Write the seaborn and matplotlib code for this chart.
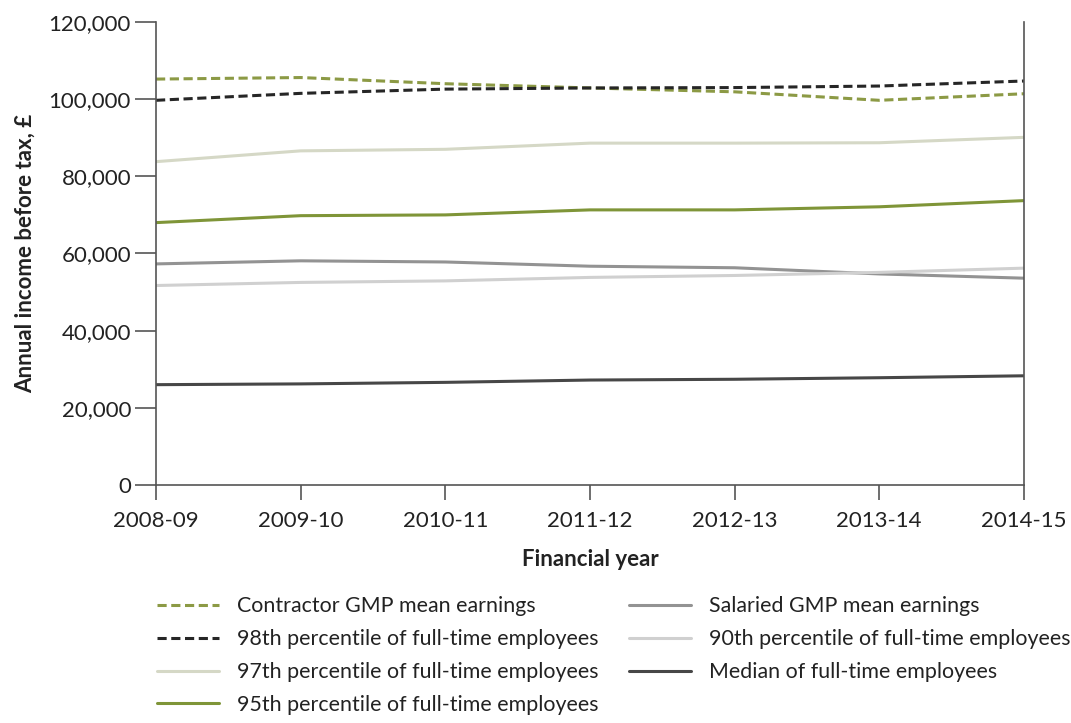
import pandas as pd
import matplotlib
matplotlib.use("Agg")
import matplotlib.pyplot as plt
import seaborn as sns

sns.set_theme(style="white")
plt.rcParams['font.family'] = ['Lato', 'DejaVu Sans']

# Data (GBP)
years = ['2008-09', '2009-10', '2010-11', '2011-12', '2012-13', '2013-14', '2014-15']
contractor_gmp = [105200, 105600, 104000, 102900, 101900, 99700, 101400]
pct98 = [99700, 101500, 102600, 102900, 103000, 103400, 104700]
pct97 = [83800, 86600, 87000, 88600, 88600, 88700, 90100]
pct95 = [68000, 69800, 70000, 71300, 71300, 72100, 73700]
salaried_gmp = [57300, 58100, 57800, 56700, 56300, 54700, 53600]
pct90 = [51700, 52500, 52900, 53800, 54300, 55100, 56200]
median = [26000, 26200, 26600, 27200, 27400, 27800, 28300]

series = [
    ('Contractor GMP mean earnings', contractor_gmp, '#8c9a45', (0, (3, 1.5))),
    ('98th percentile of full-time employees', pct98, '#262626', (0, (3, 1.5))),
    ('97th percentile of full-time employees', pct97, '#d5d8c6', '-'),
    ('95th percentile of full-time employees', pct95, '#7f9538', '-'),
    ('Salaried GMP mean earnings', salaried_gmp, '#939393', '-'),
    ('90th percentile of full-time employees', pct90, '#d0d0d0', '-'),
    ('Median of full-time employees', median, '#474747', '-'),
]

FS = 16
LEG_FS = 15.4

fig, ax = plt.subplots(figsize=(10.71, 7.23), dpi=100)
fig.subplots_adjust(left=0.1457, right=0.956, top=0.9696, bottom=0.3292)

for name, vals, col, ls in series:
    df = pd.DataFrame({'year': years, 'value': vals})
    sns.lineplot(data=df, x='year', y='value', ax=ax, color=col,
                 linestyle=ls, linewidth=2.2, label=name)

ax.set_xlim(0, len(years) - 1)
ax.set_ylim(0, 120000)
ax.set_yticks(range(0, 120001, 20000))
ax.yaxis.set_major_formatter(matplotlib.ticker.FuncFormatter(lambda v, p: f'{int(v):,}'))

for s in ['left', 'bottom', 'right']:
    ax.spines[s].set_color('#555555')
    ax.spines[s].set_linewidth(1.2)
ax.spines['top'].set_visible(False)

ax.tick_params(axis='y', which='major', direction='out', length=15, width=1.2,
               color='#555555', labelsize=FS, pad=3, left=True)
ax.tick_params(axis='x', which='major', direction='out', length=11, width=1.2,
               color='#555555', labelsize=FS, pad=8, bottom=True)
for lab in ax.get_xticklabels() + ax.get_yticklabels():
    lab.set_color('#222222')

ax.set_xlabel('Financial year', fontsize=FS, fontweight='bold', color='#222222', labelpad=13)
ax.set_ylabel('Annual income before tax, £', fontsize=FS, fontweight='bold', color='#222222', labelpad=9)

handles, labels = ax.get_legend_handles_labels()
ax.legend(handles, labels, ncol=2, loc='upper left', bbox_to_anchor=(-0.021, -0.199),
          frameon=False, fontsize=LEG_FS, handlelength=2.9, handletextpad=0.84,
          columnspacing=1.4, labelspacing=0.6, labelcolor='#222222')

plt.savefig('out.png', dpi=100)
